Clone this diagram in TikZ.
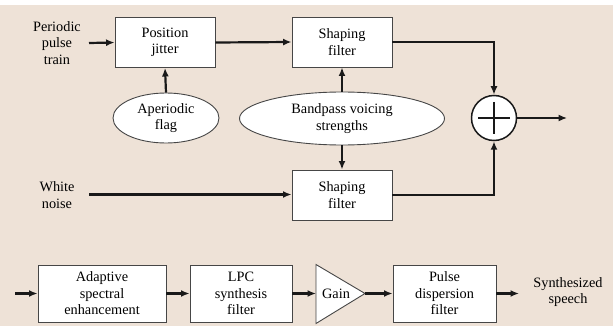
\documentclass[tikz,border=0pt]{standalone}
\usepackage{fontspec}
\setmainfont{Liberation Serif}
\usetikzlibrary{arrows.meta,shapes.geometric,calc}
\definecolor{bgbeige}{RGB}{238,226,215}
\definecolor{edgegray}{RGB}{70,70,70}
\definecolor{linedark}{RGB}{25,25,25}
\tikzset{
  blockbox/.style={draw=edgegray, line width=0.9pt, fill=white, inner sep=0pt, align=center, minimum width=100pt, minimum height=50pt},
  ovalbox/.style={ellipse, draw=edgegray, line width=0.9pt, fill=white, inner sep=0pt, align=center},
  sumnode/.style={circle, draw=linedark, line width=1.5pt, fill=white, minimum size=45pt, inner sep=0pt},
  labeltext/.style={align=center, inner sep=0pt},
  conn/.style={draw=linedark, line width=2.2pt, -{Latex[length=8.5pt,width=7pt]}},
  thinconn/.style={draw=linedark, line width=1.4pt, -{Latex[length=8.5pt,width=7pt]}},
}
\begin{document}
\begin{tikzpicture}[x=1pt,y=-1pt, font=\fontsize{14.3}{16.5}\selectfont]
\useasboundingbox (0,0) rectangle (613,326);
\fill[bgbeige] (0,5) rectangle (613,326);

% top part
\node[labeltext] (ppt) at (57,43) {Periodic\\pulse\\train};
\coordinate (pptout) at (89,43);
\node[blockbox] (jitter) at (165,42.5) {Position\\jitter};
\node[blockbox] (shape1) at (342,42) {Shaping\\filter};
\node[ovalbox, minimum width=106pt, minimum height=50pt] (flag) at (166,118) {Aperiodic\\flag};
\node[ovalbox, minimum width=205pt, minimum height=53pt] (bpv) at (342,118.5) {Bandpass voicing\\strengths};
\node[blockbox] (shape2) at (342,195) {Shaping\\filter};
\node[sumnode] (sum) at (494,118) {};
\draw[linedark, line width=2pt] ($(sum.center)+(-16,0)$) -- ($(sum.center)+(16,0)$);
\draw[linedark, line width=2pt] ($(sum.center)+(0,-16)$) -- ($(sum.center)+(0,16)$);
\coordinate (sumout) at (567,118);
\node[labeltext] (wn) at (57,195) {White\\noise};
\coordinate (wnout) at (89,194.5);

\draw[conn] (pptout) -- (jitter.west);
\draw[conn] (jitter.east) -- (shape1.west);
\draw[conn] (flag.north) -- (jitter.south);
\draw[conn] (bpv.north) -- (shape1.south);
\draw[conn] (bpv.south) -- (shape2.north);
\draw[conn] (wnout) -- (wnout -| shape2.west);
\draw[conn] (shape1.east) -| (sum.north);
\draw[conn] (shape2.east) -| (sum.south);
\draw[thinconn] (sum.east) -- (sumout);

% bottom part
\coordinate (inb) at (15,293.5);
\node[blockbox, minimum width=128pt, minimum height=57pt] (ase) at (102,293.5) {Adaptive\\spectral\\enhancement};
\node[blockbox, minimum width=102pt, minimum height=57pt] (lpc) at (241,293.5) {LPC\\synthesis\\filter};
\coordinate (gainleft) at (316,293.5);
\coordinate (gaintop) at (316,264.5);
\coordinate (gainbot) at (316,323.5);
\coordinate (gainapex) at (365,293.5);
\fill[white] (gaintop) -- (gainapex) -- (gainbot) -- cycle;
\draw[edgegray, line width=0.9pt, line join=miter] (gaintop) -- (gainapex) -- (gainbot) -- cycle;
\node[labeltext] (gain) at (336,293.5) {Gain};
\node[blockbox, minimum width=103pt, minimum height=57pt] (pd) at (444.5,293.5) {Pulse\\dispersion\\filter};
\node[labeltext] (synth) at (568,292) {Synthesized\\speech};
\coordinate (outb) at (519,293.5);

\draw[conn] (inb) -- (ase.west);
\draw[conn] (ase.east) -- (lpc.west);
\draw[conn] (lpc.east) -- (gainleft);
\draw[conn] (gainapex) -- (pd.west);
\draw[conn] (pd.east) -- (outb);
\end{tikzpicture}
\end{document}
